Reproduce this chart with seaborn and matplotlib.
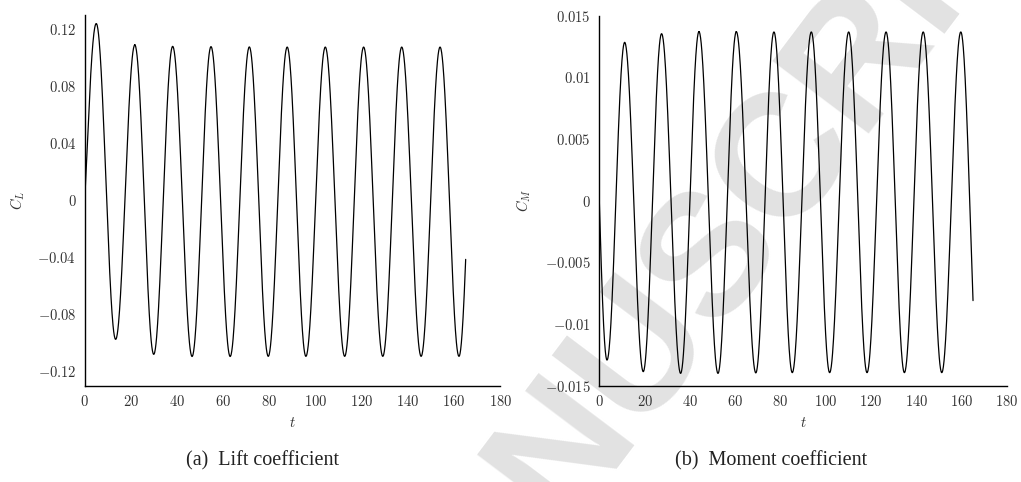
import numpy as np
import pandas as pd
import matplotlib
matplotlib.use("Agg")
import matplotlib.pyplot as plt
import seaborn as sns
from matplotlib.ticker import FixedLocator, FixedFormatter

# ---- data (extrema of each signal) ----
cl_start = (0.0, 0.0)
cl_ext_t = [5.0, 13.4, 21.7, 29.9, 38.1, 46.5, 54.7, 63.0, 71.3, 79.5,
            87.7, 95.8, 104.2, 112.6, 120.8, 129.1, 137.3, 145.7, 153.9, 162.1]
cl_ext_v = [0.1240, -0.0975, 0.1090, -0.1080, 0.1080, -0.1095, 0.1078, -0.1095, 0.1076, -0.1094,
            0.1075, -0.1094, 0.1075, -0.1094, 0.1075, -0.1094, 0.1075, -0.1094, 0.1075, -0.1094]
cl_end = (165.0, -0.0414)

cm_start = (0.0, 0.0)
cm_ext_t = [3.4, 11.2, 19.4, 27.5, 35.9, 44.0, 52.4, 60.5, 69.1, 77.1,
            85.2, 93.6, 101.7, 110.1, 118.2, 126.6, 134.7, 143.0, 151.2, 159.6]
cm_ext_v = [-0.01292, 0.01284, -0.01386, 0.01354, -0.01400, 0.01370, -0.01400, 0.01370, -0.01396, 0.01368,
            -0.01394, 0.01368, -0.01394, 0.01368, -0.01394, 0.01368, -0.01394, 0.01368, -0.01394, 0.01368]
cm_end = (165.0, -0.0081)

cl_yticks = [-0.12, -0.08, -0.04, 0, 0.04, 0.08, 0.12]
cl_ylabels = ["-0.12", "-0.08", "-0.04", "0", "0.04", "0.08", "0.12"]
cm_yticks = [-0.015, -0.01, -0.005, 0, 0.005, 0.01, 0.015]
cm_ylabels = ["-0.015", "-0.01", "-0.005", "0", "0.005", "0.01", "0.015"]
xticks = [0, 20, 40, 60, 80, 100, 120, 140, 160, 180]


def smooth_curve(start, ext_t, ext_v, end, n=60):
    """Render a smooth oscillation passing through the read extrema."""
    ts, vs = [], []
    h = ext_t[1] - ext_t[0]
    t1, v1 = ext_t[0], ext_v[0]
    t0, v0 = start
    A = (v1 - v0) / (1 - np.cos(np.pi * (t1 - t0) / h))
    tt = np.linspace(t0, t1, n)
    ts.append(tt); vs.append(v1 - A * (1 - np.cos(np.pi * (t1 - tt) / h)))
    for i in range(len(ext_t) - 1):
        s = np.linspace(0, 1, n)
        ts.append(ext_t[i] + (ext_t[i + 1] - ext_t[i]) * s)
        vs.append(ext_v[i] + (ext_v[i + 1] - ext_v[i]) * (1 - np.cos(np.pi * s)) / 2)
    h = ext_t[-1] - ext_t[-2]
    te, ve = ext_t[-1], ext_v[-1]
    tn, vn = end
    A = (vn - ve) / (1 - np.cos(np.pi * (tn - te) / h))
    tt = np.linspace(te, tn, n)
    ts.append(tt); vs.append(ve + A * (1 - np.cos(np.pi * (tt - te) / h)))
    return np.concatenate(ts), np.concatenate(vs)


sns.set_style("white")
plt.rcParams["mathtext.fontset"] = "cm"
plt.rcParams["font.family"] = ["DejaVu Serif"]

fig = plt.figure(figsize=(10.21, 4.82), dpi=100)

# watermark (behind everything)
fig.text(712 / 1021, 1 - 252 / 482, "MANUSCRIPT", rotation=53, fontsize=125, color="#e2e2e2",
         ha="center", va="center", rotation_mode="anchor",
         family="Liberation Sans", fontweight="bold", zorder=-10)

ax1 = fig.add_axes([84.7 / 1021, 1 - 385.7 / 482, (500.3 - 84.7) / 1021, (385.7 - 15) / 482])
ax2 = fig.add_axes([599.3 / 1021, 1 - 385.7 / 482, (1007 - 599.3) / 1021, (385.7 - 15.7) / 482])

t1, v1 = smooth_curve(cl_start, cl_ext_t, cl_ext_v, cl_end)
t2, v2 = smooth_curve(cm_start, cm_ext_t, cm_ext_v, cm_end)
df1 = pd.DataFrame({"t": t1, "C_L": v1})
df2 = pd.DataFrame({"t": t2, "C_M": v2})
sns.lineplot(data=df1, x="t", y="C_L", ax=ax1, color="black", lw=0.9, estimator=None, sort=False)
sns.lineplot(data=df2, x="t", y="C_M", ax=ax2, color="black", lw=0.9, estimator=None, sort=False)

for ax, yt, yl, ylim, lab, lx in [(ax1, cl_yticks, cl_ylabels, (-0.13, 0.13), r"$C_L$", -0.14),
                                   (ax2, cm_yticks, cm_ylabels, (-0.015, 0.015), r"$C_M$", -0.163)]:
    ax.patch.set_alpha(0)
    ax.set_xlim(0, 180)
    ax.set_ylim(*ylim)
    ax.xaxis.set_major_locator(FixedLocator(xticks))
    ax.xaxis.set_major_formatter(FixedFormatter([f"${v}$" for v in xticks]))
    ax.yaxis.set_major_locator(FixedLocator(yt))
    ax.yaxis.set_major_formatter(FixedFormatter([f"${s}$" for s in yl]))
    for side in ["top", "right"]:
        ax.spines[side].set_visible(False)
    for side in ["left", "bottom"]:
        ax.spines[side].set_linewidth(1.0)
        ax.spines[side].set_color("black")
    ax.tick_params(axis="x", direction="in", length=3, width=0.8, labelsize=10.5,
                   labelcolor="#333333", pad=6)
    ax.tick_params(axis="y", direction="out", length=3, width=0.8, labelsize=10.5,
                   labelcolor="#333333", pad=3)
    ax.set_xlabel(r"$t$", fontsize=10.5, color="#333333", labelpad=5)
    ax.set_ylabel(lab, fontsize=10.5, color="#333333")
    ax.yaxis.set_label_coords(lx, 0.5)

fig.text(262 / 1021, 1 - 461 / 482, "(a)  Lift coefficient", ha="center", va="center",
         fontsize=14.5, family="Liberation Serif", color="#222222")
fig.text(771 / 1021, 1 - 461 / 482, "(b)  Moment coefficient", ha="center", va="center",
         fontsize=14.5, family="Liberation Serif", color="#222222")

fig.savefig("out.png", dpi=100)
